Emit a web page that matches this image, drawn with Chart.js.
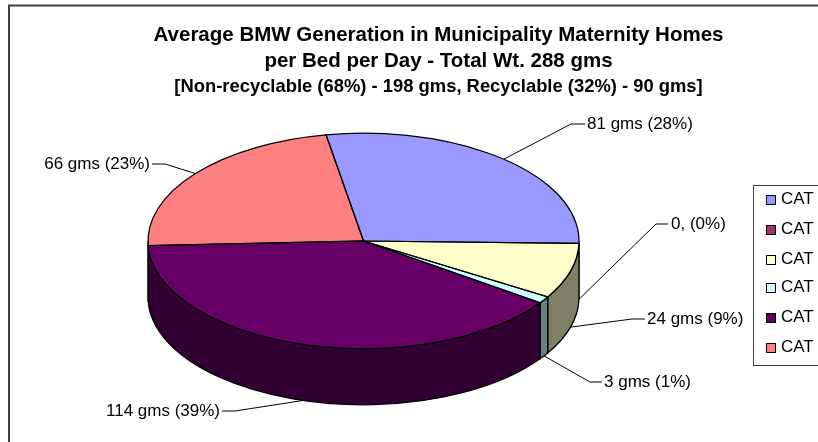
<!DOCTYPE html>
<html>
<head>
<meta charset="utf-8">
<style>html,body{margin:0;padding:0;background:#fff;overflow:hidden}canvas{display:block}</style>
<script src="https://cdn.jsdelivr.net/npm/chart.js@4"></script>
</head>
<body>
<canvas id="c" width="818" height="442"></canvas>
<script>
const categories = ["CAT 1","CAT 2","CAT 3","CAT 4","CAT 5","CAT 6"];
const weights = [81,0,24,3,114,66];
const sliceLabels = ["81 gms (28%)","0, (0%)","24 gms (9%)","3 gms (1%)","114 gms (39%)","66 gms (23%)"];
const topColors = ["#9999FF","#993366","#FFFFCC","#CCFFFF","#660066","#FF8080"];
const sideColors = ["#4D4D80","#4D1A33","#808066","#668080","#330033","#804040"];
const titleLines = ["Average BMW Generation in Municipality Maternity Homes","per Bed per Day - Total Wt. 288 gms"];
const subtitleLine = "[Non-recyclable (68%) - 198 gms, Recyclable (32%) - 90 gms]";

const pie = {x:363.5, y:241, rx:215.5, squash:0.5, depth:56};
const leaderLayout = [
  {elbow:[571,124], end:[585,124], tx:587, align:"left"},
  {elbow:[656,224], end:[668,224], tx:671, align:"left"},
  {elbow:[632,319], end:[645,319], tx:647, align:"left"},
  {elbow:[590,382], end:[602,382], tx:604, align:"left"},
  {elbow:[235,411], end:[222,411], tx:220, align:"right"},
  {elbow:[165,164], end:[152,164], tx:150, align:"right"}
];
const legendBox = {x:753, y:185, w:90, h:180, swatch:9, sx:766, tx:781, rows:[200,230,260,288,318,348]};
const FONT = '"Liberation Sans", Arial, sans-serif';
const TWO_PI = Math.PI*2;

const pie3d = {
  id:"pie3d",
  beforeDraw(chart){
    const c = chart.ctx;
    c.save();
    c.strokeStyle="#404040"; c.lineWidth=2;
    c.strokeRect(9,5.5,900,500);
    c.restore();
  },
  beforeDatasetsDraw(chart){
    const c = chart.ctx, arcs = chart.getDatasetMeta(0).data;
    const ry = pie.rx*pie.squash;
    arcs.forEach((a,i)=>{
      const p = a.getProps(["startAngle","endAngle"]);
      if (p.endAngle-p.startAngle<=0) return;
      [0,TWO_PI,-TWO_PI].forEach(shift=>{
        const s = Math.max(p.startAngle+shift,0), e = Math.min(p.endAngle+shift,Math.PI);
        if (e<=s) return;
        c.beginPath();
        c.ellipse(pie.x,pie.y,pie.rx,ry,0,s,e);
        c.ellipse(pie.x,pie.y+pie.depth,pie.rx,ry,0,e,s,true);
        c.closePath();
        c.fillStyle=sideColors[i]; c.fill();
        c.strokeStyle="#000"; c.lineWidth=1.25; c.stroke();
      });
    });
    const el = arcs[0];
    c.save();
    c.translate(pie.x,pie.y);
    c.scale(1,pie.squash);
    c.translate(-el.x,-el.y);
  },
  afterDatasetsDraw(chart){
    const c = chart.ctx, arcs = chart.getDatasetMeta(0).data;
    c.restore();
    const ry = pie.rx*pie.squash;
    c.strokeStyle="#000"; c.lineWidth=1.25;
    arcs.forEach(a=>{
      const p = a.getProps(["startAngle","endAngle"]);
      if (p.endAngle-p.startAngle<=0) return;
      c.beginPath();
      c.moveTo(pie.x,pie.y);
      c.ellipse(pie.x,pie.y,pie.rx,ry,0,p.startAngle,p.endAngle);
      c.closePath();
      c.stroke();
    });
    // leaders and labels
    c.font = "17px "+FONT;
    c.textBaseline="middle";
    arcs.forEach((a,i)=>{
      const p = a.getProps(["startAngle","endAngle"]);
      const mid = (p.startAngle+p.endAngle)/2;
      const ax = pie.x+pie.rx*Math.cos(mid);
      const ay = pie.y+ry*Math.sin(mid)+(Math.sin(mid)>0?pie.depth:0);
      const L = leaderLayout[i];
      c.beginPath();
      c.moveTo(ax,ay); c.lineTo(L.elbow[0],L.elbow[1]); c.lineTo(L.end[0],L.end[1]);
      c.strokeStyle="#000"; c.lineWidth=1; c.stroke();
      c.fillStyle="#000"; c.textAlign=L.align;
      c.fillText(sliceLabels[i],L.tx,L.end[1]);
    });
    // legend
    c.strokeStyle="#404040"; c.lineWidth=1;
    c.fillStyle="#fff";
    c.fillRect(legendBox.x,legendBox.y,legendBox.w,legendBox.h);
    c.strokeRect(legendBox.x+.5,legendBox.y+.5,legendBox.w,legendBox.h);
    c.textAlign="left";
    chart.data.labels.forEach((t,i)=>{
      const y = legendBox.rows[i];
      c.fillStyle=topColors[i];
      c.fillRect(legendBox.sx+.5,y-4.5,legendBox.swatch,legendBox.swatch);
      c.strokeStyle="#000";
      c.strokeRect(legendBox.sx+.5,y-4.5,legendBox.swatch,legendBox.swatch);
      c.fillStyle="#000";
      c.fillText(t,legendBox.tx,y-1);
    });
  }
};

new Chart(document.getElementById("c"),{
  type:"pie",
  data:{labels:categories,datasets:[{data:weights,backgroundColor:topColors,borderWidth:0,clip:false}]},
  options:{
    responsive:false,animation:false,events:[],
    rotation:-10,radius:pie.rx,
    layout:{padding:{left:59,right:0,top:0,bottom:0}},
    plugins:{
      legend:{display:false},tooltip:{enabled:false},
      title:{display:true,text:titleLines,color:"#000",font:{family:FONT,size:20.5,weight:"bold",lineHeight:1.28},padding:{top:22,bottom:0}},
      subtitle:{display:true,text:subtitleLine,color:"#000",font:{family:FONT,size:18.4,weight:"bold",lineHeight:1.4},padding:{top:0,bottom:0}}
    }
  },
  plugins:[pie3d]
});
</script>
</body>
</html>
